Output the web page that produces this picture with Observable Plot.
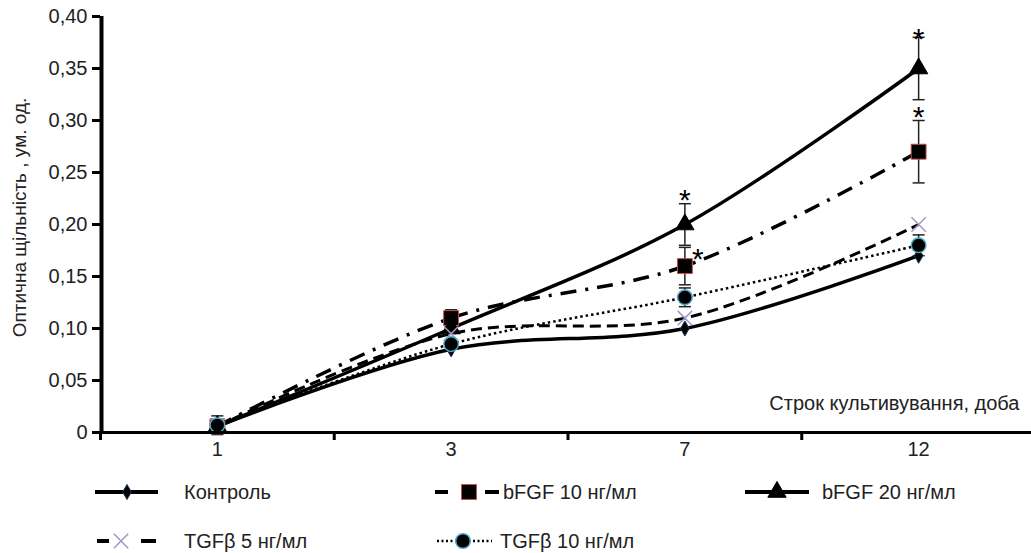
<!DOCTYPE html>
<html>
<head>
<meta charset="utf-8">
<script src="https://cdn.jsdelivr.net/npm/d3@7"></script>
<script src="https://cdn.jsdelivr.net/npm/@observablehq/plot@0.6"></script>
<style>
  body { margin: 0; background: #fff; font-family: "Liberation Sans", Arial, sans-serif; }
  #wrap { width: 1031px; }
  svg { display: block; }
</style>
</head>
<body>
<div id="wrap"><div id="chart"></div><div id="legend"></div></div>
<script>
// ---- data ----
const days = ["1", "3", "7", "12"];
const seriesNames = ["Контроль", "bFGF 10 нг/мл", "bFGF 20 нг/мл", "TGFβ 5 нг/мл", "TGFβ 10 нг/мл"];
const control = [0.006, 0.08, 0.10, 0.17];
const bfgf10  = [0.006, 0.11, 0.16, 0.27];
const bfgf20  = [0.006, 0.10, 0.20, 0.35];
const tgf5    = [0.006, 0.095, 0.11, 0.20];
const tgf10   = [0.007, 0.085, 0.13, 0.18];
// standard errors (null = not shown)
const bfgf10Err = [null, 0.008, 0.018, 0.03];
const bfgf20Err = [null, null, 0.02, 0.03];
const tgf10Err  = [0.009, null, 0.009, 0.01];
// significance marks: [day index, y]
const starsBfgf20 = [[2, 0.230], [3, 0.385]];
const starsBfgf10 = [[2, 0.173], [3, 0.310]];
const yTicks = [0, 0.05, 0.10, 0.15, 0.20, 0.25, 0.30, 0.35, 0.40];
const yTitle = "Оптична щільність , ум. од.";
const xTitle = "Строк культивування, доба";

// ---- styles ----
const FONT = '"Liberation Sans", Arial, sans-serif';
const valuesBySeries = [control, bfgf10, bfgf20, tgf5, tgf10];
const styles = [
  {dash: null,          width: 3.5, symbol: "diamond",  r: 4.6, fill: "#000", stroke: "#1f3b5c", sw: 1},
  {dash: "16,9,3,9",    width: 3.5, symbol: "square",   r: 8.4, fill: "#000", stroke: "#c0504d", sw: 1},
  {dash: null,          width: 3.5, symbol: "triangle", r: 6.8, fill: "#000", stroke: "#000",    sw: 1},
  {dash: "11,6",        width: 3,   symbol: "times",    r: 6.6, fill: "none", stroke: "#9d98c8", sw: 1.5},
  {dash: "2.5,3",       width: 2.5, symbol: "circle",   r: 7.3, fill: "#000", stroke: "#4bacc6", sw: 1.5}
];

const rows = [];
seriesNames.forEach((s, k) => valuesBySeries[k].forEach((v, i) => rows.push({series: s, k, i, value: v})));
const errRows = [];
[[bfgf10, bfgf10Err], [bfgf20, bfgf20Err], [tgf10, tgf10Err]].forEach(([vals, errs]) =>
  errs.forEach((e, i) => { if (e != null) errRows.push({i, lo: vals[i] - e, hi: vals[i] + e}); }));
const stars = [...starsBfgf20.map(([i, y]) => ({i, y, dx: 0})), ...starsBfgf10.map(([i, y]) => ({i, y, dx: i === 2 ? 13 : 0}))];

const capSymbol = {draw(ctx, size) { const w = Math.sqrt(size); ctx.moveTo(-w, 0); ctx.lineTo(w, 0); }};
const fmt = d => d === 0 ? "0" : d3.format(".2f")(d).replace(".", ",");

const marks = [];
// lines
seriesNames.forEach((s, k) => {
  const st = styles[k];
  marks.push(Plot.line(rows.filter(d => d.k === k), {
    x: "i", y: "value", curve: "catmull-rom", stroke: "#000",
    strokeWidth: st.width, strokeDasharray: st.dash || undefined, strokeLinecap: "butt"
  }));
});
// error bars
marks.push(Plot.ruleX(errRows, {x: "i", y1: "lo", y2: "hi", stroke: "#222", strokeWidth: 1.5}));
marks.push(Plot.dot(errRows, {x: "i", y: "lo", symbol: capSymbol, r: 3.4, fill: "none", stroke: "#222", strokeWidth: 1.5}));
marks.push(Plot.dot(errRows, {x: "i", y: "hi", symbol: capSymbol, r: 3.4, fill: "none", stroke: "#222", strokeWidth: 1.5}));
// markers
seriesNames.forEach((s, k) => {
  const st = styles[k];
  marks.push(Plot.dot(rows.filter(d => d.k === k), {
    x: "i", y: "value", symbol: st.symbol, r: st.r,
    fill: st.fill, stroke: st.stroke, strokeWidth: st.sw
  }));
});
// stars
marks.push(Plot.text(stars.filter(d => d.dx === 0), {x: "i", y: "y", text: () => "*", fontSize: 30, dy: 7, fill: "#000"}));
marks.push(Plot.text(stars.filter(d => d.dx !== 0), {x: "i", y: "y", text: () => "*", fontSize: 30, dy: 7, dx: 13, fill: "#000"}));
// axes
marks.push(Plot.ruleY([0], {stroke: "#000", strokeWidth: 3}));
marks.push(Plot.ruleX([-0.5], {stroke: "#000", strokeWidth: 4, dx: 1}));
marks.push(Plot.axisY({ticks: yTicks, tickSize: 8, tickPadding: 5, strokeWidth: 3, stroke: "#000",
  tickFormat: fmt, label: null, fontSize: 20, fill: "#222"}));
marks.push(Plot.axisX({ticks: [-0.5, 0.5, 1.5, 2.5], tickSize: 8, strokeWidth: 3, stroke: "#000",
  tickFormat: () => "", label: null}));
marks.push(Plot.axisX({ticks: [0, 1, 2, 3], tickSize: 0, tickPadding: 9,
  tickFormat: i => days[i], label: null, fontSize: 20, fill: "#222"}));
// titles
marks.push(Plot.text([yTitle], {frameAnchor: "left", textAnchor: "middle", rotate: -90, dx: -81, dy: -7, fontSize: 19, fill: "#222"}));
marks.push(Plot.text([xTitle], {frameAnchor: "bottom-right", textAnchor: "end", dx: -12, dy: -23, fontSize: 20, fill: "#222"}));

const chart = Plot.plot({
  width: 1031, height: 470,
  marginLeft: 100, marginRight: 0, marginTop: 16, marginBottom: 38,
  style: {fontFamily: FONT, fontSize: "20px", background: "#fff", overflow: "visible"},
  x: {type: "linear", domain: [-0.5, 3.5], range: [100, 1035], axis: null},
  y: {domain: [0, 0.4], axis: null},
  marks
});
document.getElementById("chart").appendChild(chart);

// ---- legend ----
const legendLayout = [
  {x0: 95,  x1: 158, mx: 127, tx: 184, y: 22, pieces: null},
  {x0: 435, x1: 499, mx: 469, tx: 503, y: 22, pieces: [[435, 448], [485, 499]]},
  {x0: 745, x1: 809, mx: 777, tx: 822, y: 22, pieces: null},
  {x0: 97,  x1: 156, mx: 121, tx: 184, y: 71, pieces: [[97, 109], [141, 156]]},
  {x0: 437, x1: 492, mx: 463, tx: 500, y: 71, pieces: null}
];
const leg = d3.select("#legend").append("svg").attr("width", 1031).attr("height", 83)
  .style("font-family", FONT);
seriesNames.forEach((s, k) => {
  const st = styles[k], L = legendLayout[k];
  if (L.pieces) {
    L.pieces.forEach(([a, b]) => leg.append("line").attr("x1", a).attr("x2", b).attr("y1", L.y).attr("y2", L.y)
      .attr("stroke", "#000").attr("stroke-width", 4));
  } else {
    leg.append("line").attr("x1", L.x0).attr("x2", L.x1).attr("y1", L.y).attr("y2", L.y)
      .attr("stroke", "#000").attr("stroke-width", st.dash ? 2.5 : 4)
      .attr("stroke-dasharray", st.dash ? "2,2.5" : null);
  }
  const symType = {diamond: d3.symbolDiamond, square: d3.symbolSquare, triangle: d3.symbolTriangle,
    times: d3.symbolTimes, circle: d3.symbolCircle}[st.symbol];
  leg.append("path").attr("transform", `translate(${L.mx},${L.y})`)
    .attr("d", d3.symbol().type(symType).size(st.r * st.r * Math.PI)())
    .attr("fill", st.fill).attr("stroke", st.stroke).attr("stroke-width", st.sw);
  leg.append("text").attr("x", L.tx).attr("y", L.y).attr("dy", "0.35em")
    .attr("font-size", 20).attr("fill", "#222").text(s);
});
</script>
</body>
</html>
